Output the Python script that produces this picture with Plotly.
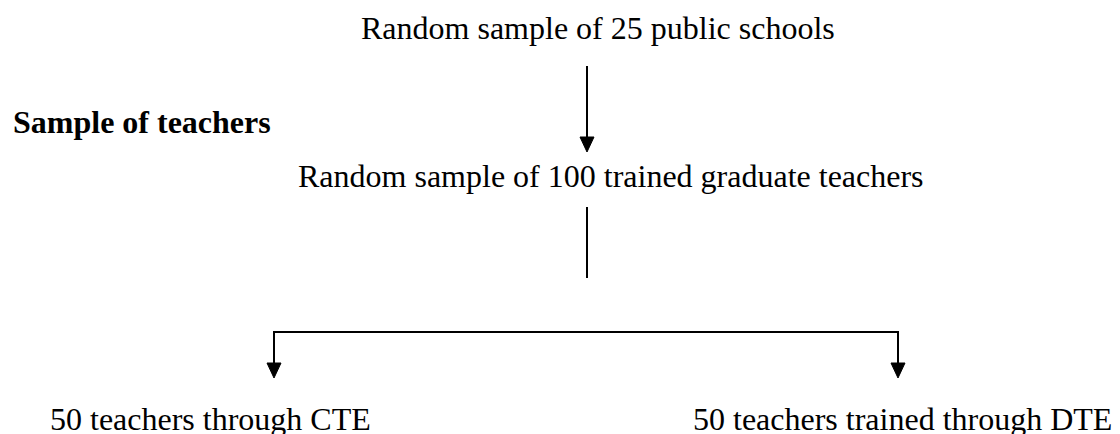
import plotly.graph_objects as go

# Flowchart content
top_label = "Random sample of 25 public schools"
side_label = "Sample of teachers"
mid_label = "Random sample of 100 trained graduate teachers"
branch_labels = ["50 teachers through CTE", "50 teachers trained through DTE"]

W, H = 1120, 434
OFF = 8  # page body margin compensation
FONT = "Liberation Serif, Times New Roman, serif"
FS = 32

fig = go.Figure()

def line(x0, y0, x1, y1):
    fig.add_shape(type="line", x0=x0, y0=y0, x1=x1, y1=y1, xref="x", yref="y",
                  line=dict(color="black", width=2))

def arrowhead(x, ytip, w=7, h=15):
    fig.add_shape(type="path", xref="x", yref="y",
                  path=f"M {x-w},{ytip-h} L {x+w},{ytip-h} L {x},{ytip} Z",
                  fillcolor="black", line=dict(color="black", width=1))

def text(x, y, s, bold=False, anchor="center"):
    fig.add_annotation(x=x, y=y, xref="x", yref="y", text=f"<b>{s}</b>" if bold else s,
                       showarrow=False, xanchor=anchor, yanchor="middle",
                       font=dict(family=FONT, size=FS, color="black"))

cx = 587
text(598, 28, top_label)
line(cx, 66, cx, 139)
arrowhead(cx, 152)
text(11, 122, side_label, bold=True, anchor="left")
text(611, 176, mid_label)
line(cx, 207, cx, 278)
line(274, 332, 898, 332)
line(274, 331, 274, 365)
line(898, 331, 898, 365)
arrowhead(274, 378)
arrowhead(898, 378)
text(210, 419, branch_labels[0])
text(902, 419, branch_labels[1])

fig.update_xaxes(range=[OFF, W + OFF], visible=False, fixedrange=True)
fig.update_yaxes(range=[H + OFF, OFF], visible=False, fixedrange=True)
fig.update_layout(width=W, height=H, margin=dict(l=0, r=0, t=0, b=0),
                  plot_bgcolor="white", paper_bgcolor="white", showlegend=False)
fig.write_html("out.html", config={"displayModeBar": False})
